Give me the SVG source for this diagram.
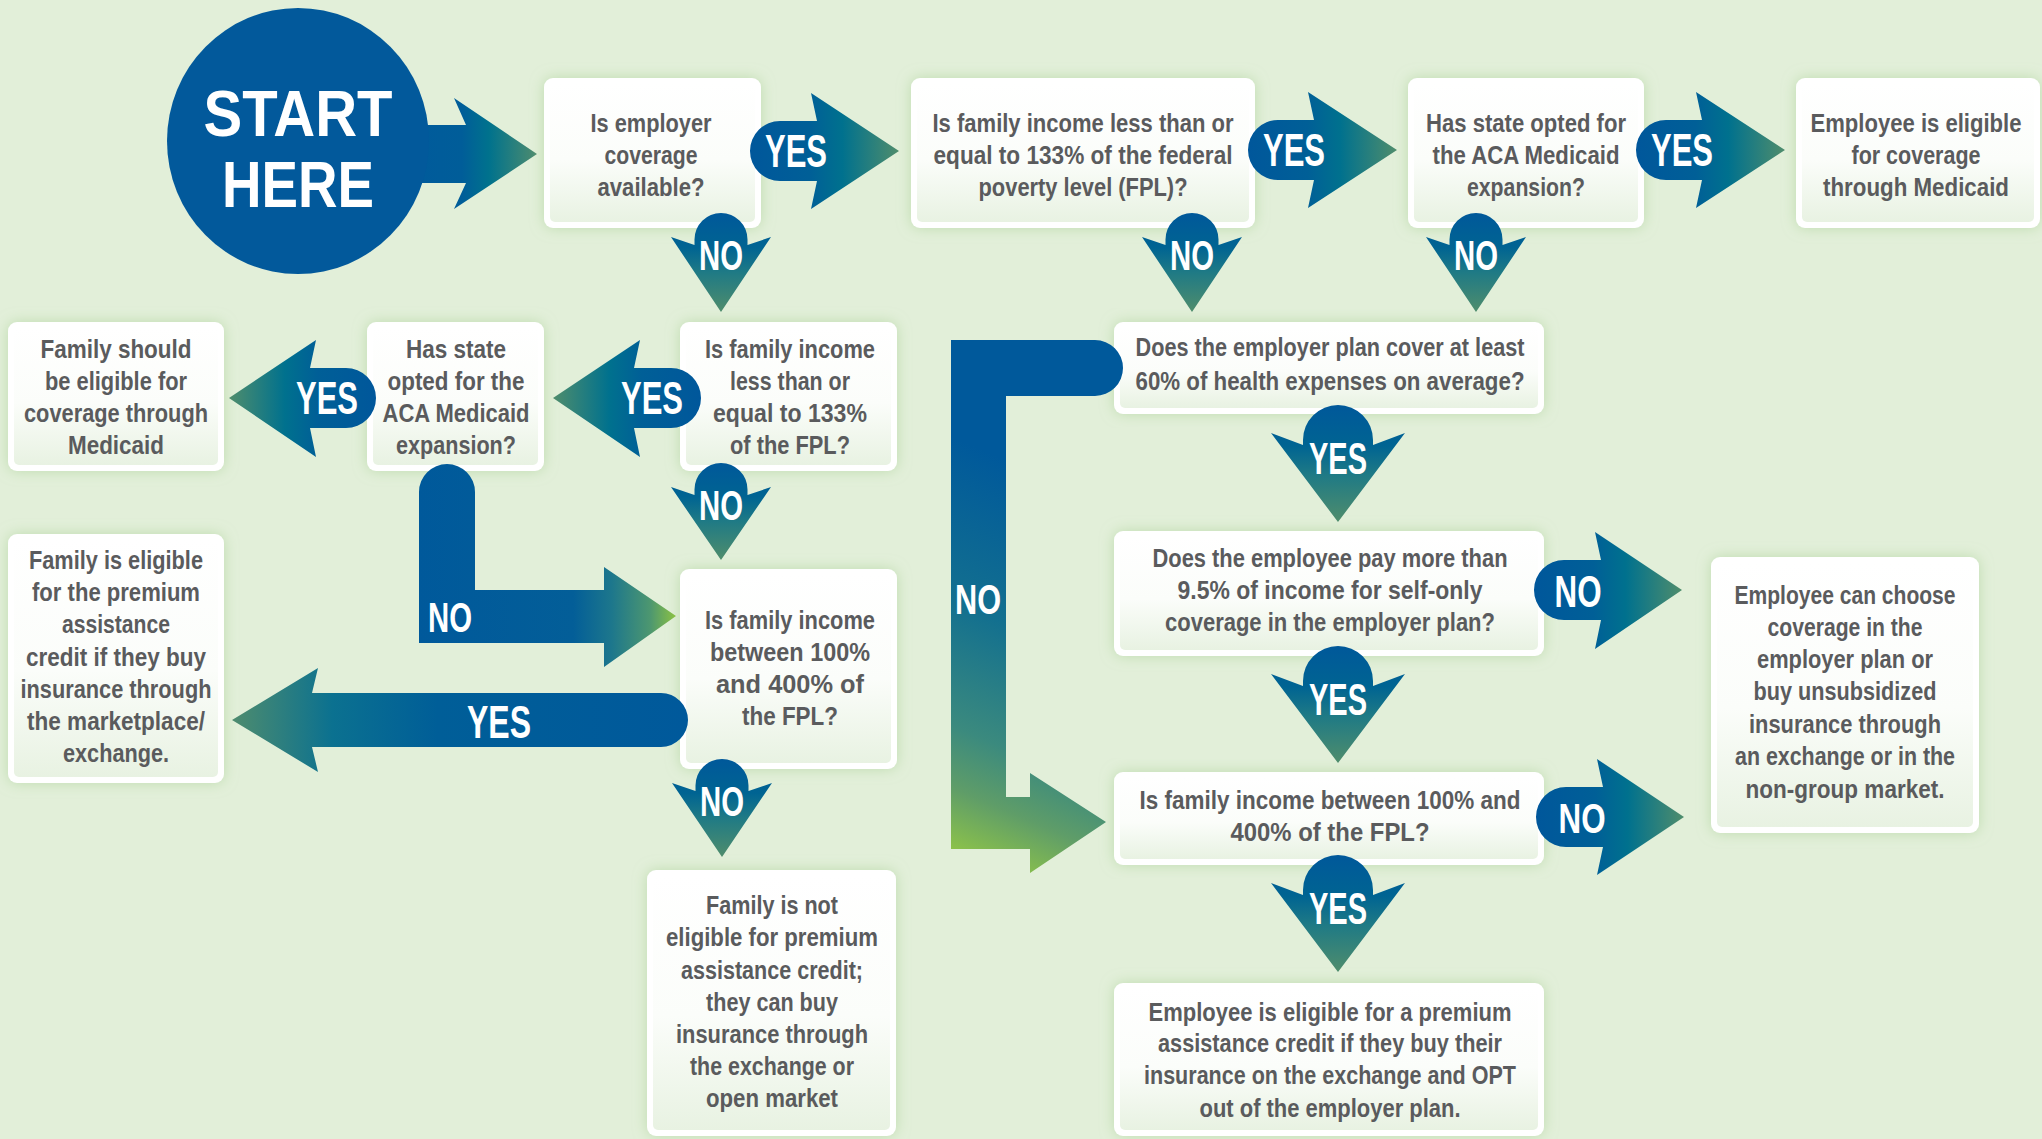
<svg xmlns="http://www.w3.org/2000/svg" width="2042" height="1139" viewBox="0 0 2042 1139">
<defs>
<style>
.bx{fill:#ffffff;filter:url(#glow)}
.bi{fill:url(#gBox)}
.t{font-family:"Liberation Sans Narrow","Liberation Sans",Arial,sans-serif;font-weight:bold;font-size:26px;fill:#5a5b5d;text-anchor:middle}
.yn{font-family:"Liberation Sans Narrow","Liberation Sans",Arial,sans-serif;font-weight:bold;fill:#ffffff;text-anchor:middle}
.st{font-family:"Liberation Sans Narrow","Liberation Sans",Arial,sans-serif;font-weight:bold;font-size:65px;fill:#ffffff;text-anchor:middle}
</style>
<filter id="glow" x="-15%" y="-15%" width="130%" height="130%">
<feDropShadow dx="0" dy="0" stdDeviation="7" flood-color="#a6cf92" flood-opacity="0.6"/>
</filter>
<linearGradient id="gBox" x1="0" y1="0" x2="0" y2="1">
<stop offset="0" stop-color="#ffffff"/><stop offset="0.55" stop-color="#fbfdfa"/><stop offset="1" stop-color="#e8f2e2"/>
</linearGradient>
<linearGradient id="gR" x1="0" y1="0" x2="1" y2="0">
<stop offset="0" stop-color="#00579b"/><stop offset="0.4" stop-color="#005f97"/><stop offset="0.62" stop-color="#00718e"/><stop offset="1" stop-color="#4f8d6c"/>
</linearGradient>
<linearGradient id="gL" x1="1" y1="0" x2="0" y2="0">
<stop offset="0" stop-color="#00579b"/><stop offset="0.4" stop-color="#005f97"/><stop offset="0.62" stop-color="#00718e"/><stop offset="1" stop-color="#4f8d6c"/>
</linearGradient>
<linearGradient id="gD" x1="0" y1="0" x2="0" y2="1">
<stop offset="0" stop-color="#00589a"/><stop offset="0.35" stop-color="#006492"/><stop offset="0.6" stop-color="#1f7a85"/><stop offset="1" stop-color="#4f8d6c"/>
</linearGradient>
<linearGradient id="gStart" x1="0" y1="0" x2="1" y2="0">
<stop offset="0" stop-color="#005a9c"/><stop offset="0.45" stop-color="#005d99"/><stop offset="0.65" stop-color="#00728d"/><stop offset="1" stop-color="#4e8c6e"/>
</linearGradient>
<linearGradient id="gLong" gradientUnits="userSpaceOnUse" x1="688" y1="0" x2="232" y2="0">
<stop offset="0" stop-color="#00599b"/><stop offset="0.55" stop-color="#005e98"/><stop offset="0.78" stop-color="#0b7190"/><stop offset="1" stop-color="#4e8c6e"/>
</linearGradient>
<linearGradient id="gLF" gradientUnits="userSpaceOnUse" x1="419" y1="0" x2="676" y2="0">
<stop offset="0" stop-color="#00599b"/><stop offset="0.6" stop-color="#035e98"/><stop offset="0.75" stop-color="#1d778c"/><stop offset="0.9" stop-color="#4d9770"/><stop offset="1" stop-color="#8cc243"/>
</linearGradient>
<linearGradient id="gBr" gradientUnits="userSpaceOnUse" x1="951" y1="849" x2="1100" y2="500">
<stop offset="0" stop-color="#8cc24a"/><stop offset="0.15" stop-color="#5f9d68"/><stop offset="0.3" stop-color="#3b8a7e"/><stop offset="0.6" stop-color="#13708f"/><stop offset="1" stop-color="#00599b"/>
</linearGradient>
</defs>

<rect x="0" y="0" width="2042" height="1139" fill="#e2efd9"/>

<g id="start">
<path d="M 400,125 L 466,125 L 454,98 L 537,154 L 454,209 L 466,183 L 400,183 Z" fill="url(#gStart)"/>
<ellipse cx="298" cy="141" rx="131" ry="133" fill="#02599b"/>
<text class="st" x="298" y="136" textLength="189" lengthAdjust="spacingAndGlyphs">START</text>
<text class="st" x="298" y="207" textLength="152" lengthAdjust="spacingAndGlyphs">HERE</text>
</g>

<g id="nodeA">
<rect class="bx" x="544" y="78" width="217" height="150" rx="9"/>
<rect class="bi" x="550" y="84" width="205" height="138" rx="5"/>
<text class="t" x="651" y="132" textLength="121" lengthAdjust="spacingAndGlyphs">Is employer</text>
<text class="t" x="651" y="164" textLength="93" lengthAdjust="spacingAndGlyphs">coverage</text>
<text class="t" x="651" y="196" textLength="107" lengthAdjust="spacingAndGlyphs">available?</text>
</g>

<g id="nodeB">
<rect class="bx" x="911" y="78" width="344" height="150" rx="9"/>
<rect class="bi" x="917" y="84" width="332" height="138" rx="5"/>
<text class="t" x="1083" y="132" textLength="301" lengthAdjust="spacingAndGlyphs">Is family income less than or</text>
<text class="t" x="1083" y="164" textLength="299" lengthAdjust="spacingAndGlyphs">equal to 133% of the federal</text>
<text class="t" x="1083" y="196" textLength="209" lengthAdjust="spacingAndGlyphs">poverty level (FPL)?</text>
</g>

<g id="nodeC">
<rect class="bx" x="1408" y="78" width="236" height="150" rx="9"/>
<rect class="bi" x="1414" y="84" width="224" height="138" rx="5"/>
<text class="t" x="1526" y="132" textLength="200" lengthAdjust="spacingAndGlyphs">Has state opted for</text>
<text class="t" x="1526" y="164" textLength="187" lengthAdjust="spacingAndGlyphs">the ACA Medicaid</text>
<text class="t" x="1526" y="196" textLength="118" lengthAdjust="spacingAndGlyphs">expansion?</text>
</g>

<g id="nodeD">
<rect class="bx" x="1796" y="78" width="244" height="150" rx="9"/>
<rect class="bi" x="1802" y="84" width="232" height="138" rx="5"/>
<text class="t" x="1916" y="132" font-size="24" textLength="211" lengthAdjust="spacingAndGlyphs">Employee is eligible</text>
<text class="t" x="1916" y="164" textLength="129" lengthAdjust="spacingAndGlyphs">for coverage</text>
<text class="t" x="1916" y="196" textLength="186" lengthAdjust="spacingAndGlyphs">through Medicaid</text>
</g>

<g id="nodeE">
<rect class="bx" x="8" y="322" width="216" height="149" rx="9"/>
<rect class="bi" x="14" y="328" width="204" height="137" rx="5"/>
<text class="t" x="116" y="358" textLength="151" lengthAdjust="spacingAndGlyphs">Family should</text>
<text class="t" x="116" y="390" textLength="142" lengthAdjust="spacingAndGlyphs">be eligible for</text>
<text class="t" x="116" y="422" textLength="184" lengthAdjust="spacingAndGlyphs">coverage through</text>
<text class="t" x="116" y="454" textLength="96" lengthAdjust="spacingAndGlyphs">Medicaid</text>
</g>

<g id="nodeF">
<rect class="bx" x="367" y="322" width="177" height="149" rx="9"/>
<rect class="bi" x="373" y="328" width="165" height="137" rx="5"/>
<text class="t" x="456" y="358" textLength="100" lengthAdjust="spacingAndGlyphs">Has state</text>
<text class="t" x="456" y="390" textLength="137" lengthAdjust="spacingAndGlyphs">opted for the</text>
<text class="t" x="456" y="422" textLength="147" lengthAdjust="spacingAndGlyphs">ACA Medicaid</text>
<text class="t" x="456" y="454" textLength="120" lengthAdjust="spacingAndGlyphs">expansion?</text>
</g>

<g id="nodeG">
<rect class="bx" x="680" y="322" width="217" height="149" rx="9"/>
<rect class="bi" x="686" y="328" width="205" height="137" rx="5"/>
<text class="t" x="790" y="358" textLength="170" lengthAdjust="spacingAndGlyphs">Is family income</text>
<text class="t" x="790" y="390" textLength="120" lengthAdjust="spacingAndGlyphs">less than or</text>
<text class="t" x="790" y="422" textLength="154" lengthAdjust="spacingAndGlyphs">equal to 133%</text>
<text class="t" x="790" y="454" textLength="120" lengthAdjust="spacingAndGlyphs">of the FPL?</text>
</g>

<g id="nodeH">
<rect class="bx" x="680" y="569" width="217" height="200" rx="9"/>
<rect class="bi" x="686" y="575" width="205" height="188" rx="5"/>
<text class="t" x="790" y="629" textLength="170" lengthAdjust="spacingAndGlyphs">Is family income</text>
<text class="t" x="790" y="661" textLength="160" lengthAdjust="spacingAndGlyphs">between 100%</text>
<text class="t" x="790" y="693" textLength="148" lengthAdjust="spacingAndGlyphs">and 400% of</text>
<text class="t" x="790" y="725" textLength="96" lengthAdjust="spacingAndGlyphs">the FPL?</text>
</g>

<g id="nodeI">
<rect class="bx" x="8" y="534" width="216" height="249" rx="9"/>
<rect class="bi" x="14" y="540" width="204" height="237" rx="5"/>
<text class="t" x="116" y="569" textLength="174" lengthAdjust="spacingAndGlyphs">Family is eligible</text>
<text class="t" x="116" y="601" textLength="168" lengthAdjust="spacingAndGlyphs">for the premium</text>
<text class="t" x="116" y="633" textLength="108" lengthAdjust="spacingAndGlyphs">assistance</text>
<text class="t" x="116" y="666" textLength="180" lengthAdjust="spacingAndGlyphs">credit if they buy</text>
<text class="t" x="116" y="698" textLength="191" lengthAdjust="spacingAndGlyphs">insurance through</text>
<text class="t" x="116" y="730" textLength="178" lengthAdjust="spacingAndGlyphs">the marketplace/</text>
<text class="t" x="116" y="762" textLength="106" lengthAdjust="spacingAndGlyphs">exchange.</text>
</g>

<g id="nodeJ">
<rect class="bx" x="647" y="870" width="249" height="266" rx="9"/>
<rect class="bi" x="653" y="876" width="237" height="254" rx="5"/>
<text class="t" x="772" y="914" textLength="132" lengthAdjust="spacingAndGlyphs">Family is not</text>
<text class="t" x="772" y="946" textLength="212" lengthAdjust="spacingAndGlyphs">eligible for premium</text>
<text class="t" x="772" y="979" textLength="182" lengthAdjust="spacingAndGlyphs">assistance credit;</text>
<text class="t" x="772" y="1011" textLength="132" lengthAdjust="spacingAndGlyphs">they can buy</text>
<text class="t" x="772" y="1043" textLength="192" lengthAdjust="spacingAndGlyphs">insurance through</text>
<text class="t" x="772" y="1075" textLength="164" lengthAdjust="spacingAndGlyphs">the exchange or</text>
<text class="t" x="772" y="1107" textLength="132" lengthAdjust="spacingAndGlyphs">open market</text>
</g>

<g id="nodeK">
<rect class="bx" x="1114" y="322" width="430" height="92" rx="9"/>
<rect class="bi" x="1120" y="328" width="418" height="80" rx="5"/>
<text class="t" x="1330" y="356" textLength="389" lengthAdjust="spacingAndGlyphs">Does the employer plan cover at least</text>
<text class="t" x="1330" y="390" textLength="389" lengthAdjust="spacingAndGlyphs">60% of health expenses on average?</text>
</g>

<g id="nodeL">
<rect class="bx" x="1114" y="531" width="430" height="125" rx="9"/>
<rect class="bi" x="1120" y="537" width="418" height="113" rx="5"/>
<text class="t" x="1330" y="567" textLength="355" lengthAdjust="spacingAndGlyphs">Does the employee pay more than</text>
<text class="t" x="1330" y="599" textLength="305" lengthAdjust="spacingAndGlyphs">9.5% of income for self-only</text>
<text class="t" x="1330" y="631" textLength="330" lengthAdjust="spacingAndGlyphs">coverage in the employer plan?</text>
</g>

<g id="nodeM">
<rect class="bx" x="1114" y="772" width="430" height="93" rx="9"/>
<rect class="bi" x="1120" y="778" width="418" height="81" rx="5"/>
<text class="t" x="1330" y="809" font-size="24" textLength="381" lengthAdjust="spacingAndGlyphs">Is family income between 100% and</text>
<text class="t" x="1330" y="841" textLength="199" lengthAdjust="spacingAndGlyphs">400% of the FPL?</text>
</g>

<g id="nodeN">
<rect class="bx" x="1711" y="557" width="268" height="276" rx="9"/>
<rect class="bi" x="1717" y="563" width="256" height="264" rx="5"/>
<text class="t" x="1845" y="604" textLength="221" lengthAdjust="spacingAndGlyphs">Employee can choose</text>
<text class="t" x="1845" y="636" textLength="155" lengthAdjust="spacingAndGlyphs">coverage in the</text>
<text class="t" x="1845" y="668" textLength="176" lengthAdjust="spacingAndGlyphs">employer plan or</text>
<text class="t" x="1845" y="700" textLength="183" lengthAdjust="spacingAndGlyphs">buy unsubsidized</text>
<text class="t" x="1845" y="733" textLength="192" lengthAdjust="spacingAndGlyphs">insurance through</text>
<text class="t" x="1845" y="765" textLength="220" lengthAdjust="spacingAndGlyphs">an exchange or in the</text>
<text class="t" x="1845" y="798" textLength="199" lengthAdjust="spacingAndGlyphs">non-group market.</text>
</g>

<g id="nodeO">
<rect class="bx" x="1114" y="983" width="430" height="153" rx="9"/>
<rect class="bi" x="1120" y="989" width="418" height="141" rx="5"/>
<text class="t" x="1330" y="1021" textLength="363" lengthAdjust="spacingAndGlyphs">Employee is eligible for a premium</text>
<text class="t" x="1330" y="1052" textLength="344" lengthAdjust="spacingAndGlyphs">assistance credit if they buy their</text>
<text class="t" x="1330" y="1084" textLength="372" lengthAdjust="spacingAndGlyphs">insurance on the exchange and OPT</text>
<text class="t" x="1330" y="1117" textLength="261" lengthAdjust="spacingAndGlyphs">out of the employer plan.</text>
</g>

<g id="connectors">
<path d="M 780,121 L 817,121 L 811,93 L 899,151 L 811,209 L 817,181 L 780,181 A 30 30 0 0 1 780,121 Z" fill="url(#gR)"/>
<text class="yn" x="796" y="167" font-size="46" textLength="62" lengthAdjust="spacingAndGlyphs">YES</text>
<path d="M 1278,120 L 1314,120 L 1308,92 L 1397,150 L 1308,208 L 1314,180 L 1278,180 A 30 30 0 0 1 1278,120 Z" fill="url(#gR)"/>
<text class="yn" x="1294" y="166" font-size="46" textLength="62" lengthAdjust="spacingAndGlyphs">YES</text>
<path d="M 1666,120 L 1702,120 L 1696,92 L 1785,150 L 1696,208 L 1702,180 L 1666,180 A 30 30 0 0 1 1666,120 Z" fill="url(#gR)"/>
<text class="yn" x="1682" y="166" font-size="46" textLength="62" lengthAdjust="spacingAndGlyphs">YES</text>

<path d="M 694.5,239.5 A 26.5 26.5 0 0 1 747.5,239.5 L 747.5,245 L 771,237 L 721,312 L 671,237 L 694.5,245 Z" fill="url(#gD)"/>
<text class="yn" x="721" y="270" font-size="42" textLength="44" lengthAdjust="spacingAndGlyphs">NO</text>
<path d="M 1165.5,239.5 A 26.5 26.5 0 0 1 1218.5,239.5 L 1218.5,245 L 1242,237 L 1192,312 L 1142,237 L 1165.5,245 Z" fill="url(#gD)"/>
<text class="yn" x="1192" y="270" font-size="42" textLength="44" lengthAdjust="spacingAndGlyphs">NO</text>
<path d="M 1449.5,239.5 A 26.5 26.5 0 0 1 1502.5,239.5 L 1502.5,245 L 1526,237 L 1476,312 L 1426,237 L 1449.5,245 Z" fill="url(#gD)"/>
<text class="yn" x="1476" y="270" font-size="42" textLength="44" lengthAdjust="spacingAndGlyphs">NO</text>

<path d="M 671,368 L 634,368 L 640,340 L 553,398 L 640,457 L 634,428 L 671,428 A 30 30 0 0 0 671,368 Z" fill="url(#gL)"/>
<text class="yn" x="652" y="414" font-size="46" textLength="62" lengthAdjust="spacingAndGlyphs">YES</text>
<path d="M 346,368 L 310,368 L 316,340 L 229,398 L 316,457 L 310,428 L 346,428 A 30 30 0 0 0 346,368 Z" fill="url(#gL)"/>
<text class="yn" x="327" y="414" font-size="46" textLength="62" lengthAdjust="spacingAndGlyphs">YES</text>

<path d="M 694.5,489.5 A 26.5 26.5 0 0 1 747.5,489.5 L 747.5,495 L 771,487 L 721,560 L 671,487 L 694.5,495 Z" fill="url(#gD)"/>
<text class="yn" x="721" y="520" font-size="42" textLength="44" lengthAdjust="spacingAndGlyphs">NO</text>

<path d="M 419,492 A 28 28 0 0 1 475,492 L 475,590 L 604,590 L 604,567 L 676,616 L 604,667 L 604,643 L 419,643 Z" fill="url(#gLF)"/>
<text class="yn" x="450" y="632" font-size="42" textLength="44" lengthAdjust="spacingAndGlyphs">NO</text>

<path d="M 661,693 L 312,693 L 318,668 L 232,720 L 318,772 L 312,747 L 661,747 A 27 27 0 0 0 661,693 Z" fill="url(#gLong)"/>
<text class="yn" x="499" y="738" font-size="46" textLength="64" lengthAdjust="spacingAndGlyphs">YES</text>

<path d="M 695.5,785.5 A 26.5 26.5 0 0 1 748.5,785.5 L 748.5,791 L 772,783 L 722,857 L 672,783 L 695.5,791 Z" fill="url(#gD)"/>
<text class="yn" x="722" y="816" font-size="42" textLength="44" lengthAdjust="spacingAndGlyphs">NO</text>

<path d="M 951,340 L 1095,340 A 28 28 0 0 1 1095,396 L 1006,396 L 1006,797 L 1030,797 L 1030,773 L 1106,822 L 1030,873 L 1030,849 L 951,849 Z" fill="url(#gBr)"/>
<text class="yn" x="978" y="614" font-size="42" textLength="46" lengthAdjust="spacingAndGlyphs">NO</text>

<path d="M 1303,440 A 35 35 0 0 1 1373,440 L 1373,445 L 1405,433 L 1338,522 L 1271,433 L 1303,445 Z" fill="url(#gD)"/>
<text class="yn" x="1338" y="474" font-size="44" textLength="58" lengthAdjust="spacingAndGlyphs">YES</text>
<path d="M 1303,681 A 35 35 0 0 1 1373,681 L 1373,686 L 1405,674 L 1338,763 L 1271,674 L 1303,686 Z" fill="url(#gD)"/>
<text class="yn" x="1338" y="715" font-size="44" textLength="58" lengthAdjust="spacingAndGlyphs">YES</text>
<path d="M 1303,890 A 35 35 0 0 1 1373,890 L 1373,895 L 1405,883 L 1338,972 L 1271,883 L 1303,895 Z" fill="url(#gD)"/>
<text class="yn" x="1338" y="924" font-size="44" textLength="58" lengthAdjust="spacingAndGlyphs">YES</text>

<path d="M 1564,560 L 1601,560 L 1595,532 L 1682,590 L 1595,649 L 1601,620 L 1564,620 A 30 30 0 0 1 1564,560 Z" fill="url(#gR)"/>
<text class="yn" x="1578" y="607" font-size="44" textLength="47" lengthAdjust="spacingAndGlyphs">NO</text>
<path d="M 1566,787 L 1603,787 L 1597,759 L 1684,817 L 1597,875 L 1603,847 L 1566,847 A 30 30 0 0 1 1566,787 Z" fill="url(#gR)"/>
<text class="yn" x="1582" y="833" font-size="42" textLength="47" lengthAdjust="spacingAndGlyphs">NO</text>
</g>
</svg>
